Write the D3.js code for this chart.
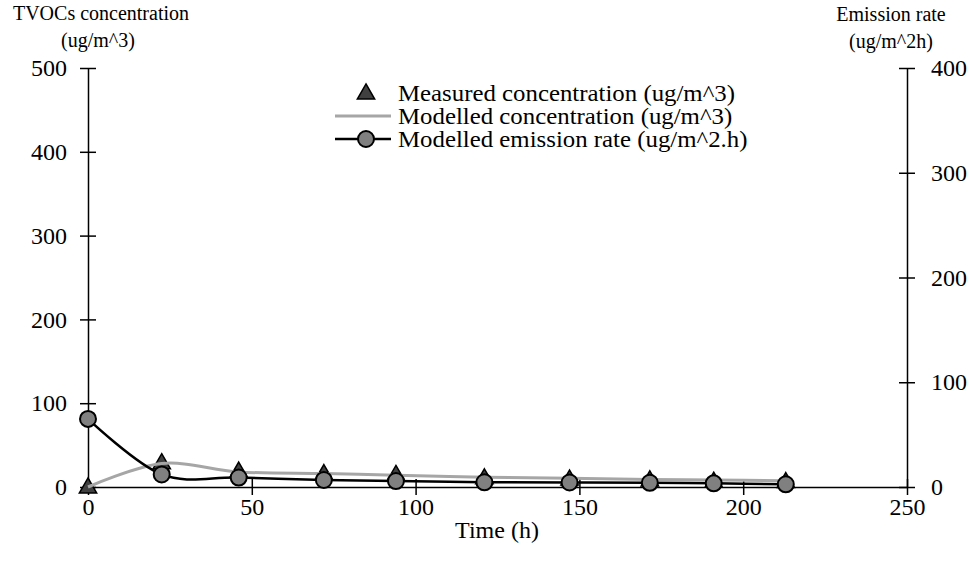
<!DOCTYPE html>
<html>
<head>
<meta charset="utf-8">
<script src="https://cdn.jsdelivr.net/npm/d3@7"></script>
<style>
  html, body { margin: 0; padding: 0; background: #fff; }
  svg { display: block; font-family: "Liberation Serif", "Times New Roman", serif; }
</style>
</head>
<body>
<div id="chart"></div>
<script>
/*    Data    */
/***********************************/
const times = [0, 22.5, 46, 72, 94, 121, 147, 171.5, 191, 213];
const measuredConc = [0, 29, 19, 16, 15, 11, 9.5, 8.5, 7, 6.5];
const modelledConc = [0, 28, 18, 16, 14, 11.5, 10.5, 9, 8.5, 7.5];
const emissionRate = [65, 12, 9, 6.7, 5.7, 4.5, 4.3, 4, 3.5, 2.6];

const xTicks = [0, 50, 100, 150, 200, 250];
const leftTicks = [0, 100, 200, 300, 400, 500];
const rightTicks = [0, 100, 200, 300, 400];

const legendLabels = [
  "Measured concentration (ug/m^3)",
  "Modelled concentration (ug/m^3)",
  "Modelled emission rate (ug/m^2.h)"
];

const drawChart = () => {

  /*    Declare the constants    */
  /*******************************/
  const width = 969;
  const height = 564;
  const margin = {top: 68, right: 62, bottom: 77, left: 88};
  const innerWidth = width - margin.left - margin.right;
  const innerHeight = height - margin.top - margin.bottom;
  const tickFont = 24;
  const serif = "Liberation Serif, Times New Roman, serif";

  const svg = d3.select("#chart")
    .append("svg")
      .attr("width", width)
      .attr("height", height)
      .attr("viewBox", `0, 0, ${width}, ${height}`);

  const innerChart = svg
    .append("g")
      .attr("transform", `translate(${margin.left}, ${margin.top})`);

  /*    Scales    */
  const xScale = d3.scaleLinear()
    .domain([0, 250])
    .range([0, innerWidth]);

  const yLeft = d3.scaleLinear()
    .domain([0, 500])
    .range([innerHeight, 0]);

  const yRight = d3.scaleLinear()
    .domain([0, 400])
    .range([innerHeight, 0]);

  /*    Axes, with ticks crossing the line    */
  const styleAxis = (g, vertical) => {
    g.attr("font-family", serif);
    g.select(".domain").attr("stroke", "#000").attr("stroke-width", 1.5);
    g.selectAll(".tick line").attr("stroke", "#000").attr("stroke-width", 1.5);
    if (vertical) {
      g.selectAll(".tick line").attr("x1", -8).attr("x2", 8);
    } else {
      g.selectAll(".tick line").attr("y1", -8).attr("y2", 8);
    }
    g.selectAll(".tick text")
      .attr("fill", "#000")
      .attr("font-size", tickFont)
      .attr("font-family", serif);
  };

  innerChart
    .append("g")
      .attr("class", "x-axis")
      .attr("transform", `translate(0, ${innerHeight})`)
      .call(d3.axisBottom(xScale).tickValues(xTicks).tickSize(8).tickPadding(3).tickSizeOuter(0))
      .call(g => styleAxis(g, false));

  innerChart
    .append("g")
      .attr("class", "y-axis-left")
      .call(d3.axisLeft(yLeft).tickValues(leftTicks).tickSize(8).tickPadding(13).tickSizeOuter(0))
      .call(g => styleAxis(g, true));

  innerChart
    .append("g")
      .attr("class", "y-axis-right")
      .attr("transform", `translate(${innerWidth}, 0)`)
      .call(d3.axisRight(yRight).tickValues(rightTicks).tickSize(8).tickPadding(16).tickSizeOuter(0))
      .call(g => styleAxis(g, true));

  /*    Series    */
  const triangle = d3.symbol().type(d3.symbolTriangle).size(130);

  innerChart
    .selectAll(".measured")
    .data(times)
    .join("path")
      .attr("class", "measured")
      .attr("d", triangle)
      .attr("transform", (d, i) => `translate(${xScale(d)}, ${yLeft(measuredConc[i]) + 1})`)
      .attr("fill", "#404040")
      .attr("stroke", "#000")
      .attr("stroke-width", 1.5);

  const concLine = d3.line()
    .x((d, i) => xScale(times[i]))
    .y(d => yLeft(d))
    .curve(d3.curveCardinal.tension(0));

  innerChart
    .append("path")
      .attr("d", concLine(modelledConc))
      .attr("fill", "none")
      .attr("stroke", "#a6a6a6")
      .attr("stroke-width", 3);

  const rateLine = d3.line()
    .x((d, i) => xScale(times[i]))
    .y(d => yRight(d))
    .curve(d3.curveCardinal.tension(0));

  innerChart
    .append("path")
      .attr("d", rateLine(emissionRate))
      .attr("fill", "none")
      .attr("stroke", "#000")
      .attr("stroke-width", 2.5);

  innerChart
    .selectAll(".rate")
    .data(times)
    .join("circle")
      .attr("class", "rate")
      .attr("cx", d => xScale(d))
      .attr("cy", (d, i) => yRight(emissionRate[i]))
      .attr("r", 8)
      .attr("fill", "#808080")
      .attr("stroke", "#000")
      .attr("stroke-width", 2);

  /*    Axis titles    */
  svg.append("text")
    .text("Time (h)")
    .attr("x", 497)
    .attr("y", 538)
    .attr("text-anchor", "middle")
    .attr("font-size", 24);

  const leftTitle = svg.append("text")
    .attr("text-anchor", "middle")
    .attr("font-size", 20);
  leftTitle.append("tspan").attr("x", 101).attr("y", 20).text("TVOCs concentration");
  leftTitle.append("tspan").attr("x", 98).attr("y", 47).text("(ug/m^3)");

  const rightTitle = svg.append("text")
    .attr("text-anchor", "middle")
    .attr("font-size", 20);
  rightTitle.append("tspan").attr("x", 891).attr("y", 21).text("Emission rate");
  rightTitle.append("tspan").attr("x", 891).attr("y", 48).text("(ug/m^2h)");

  /*    Legend    */
  const legend = svg.append("g")
    .attr("transform", "translate(335, 93)");

  const rows = legend.selectAll("g")
    .data(legendLabels)
    .join("g")
      .attr("transform", (d, i) => `translate(0, ${i * 23})`);

  rows.append("text")
    .text(d => d)
    .attr("transform", "translate(63, 8) scale(1.08, 1)")
    .attr("font-size", 23);

  rows.filter((d, i) => i === 0)
    .append("path")
      .attr("d", triangle)
      .attr("transform", "translate(31, 1)")
      .attr("fill", "#404040")
      .attr("stroke", "#000")
      .attr("stroke-width", 1.5);

  rows.filter((d, i) => i === 1)
    .append("line")
      .attr("x1", 0).attr("x2", 56)
      .attr("stroke", "#a6a6a6")
      .attr("stroke-width", 3);

  rows.filter((d, i) => i === 2)
    .append("line")
      .attr("x1", 0).attr("x2", 56)
      .attr("stroke", "#000")
      .attr("stroke-width", 2.5);

  rows.filter((d, i) => i === 2)
    .append("circle")
      .attr("cx", 31)
      .attr("r", 8)
      .attr("fill", "#808080")
      .attr("stroke", "#000")
      .attr("stroke-width", 2);
};

drawChart();
</script>
</body>
</html>
